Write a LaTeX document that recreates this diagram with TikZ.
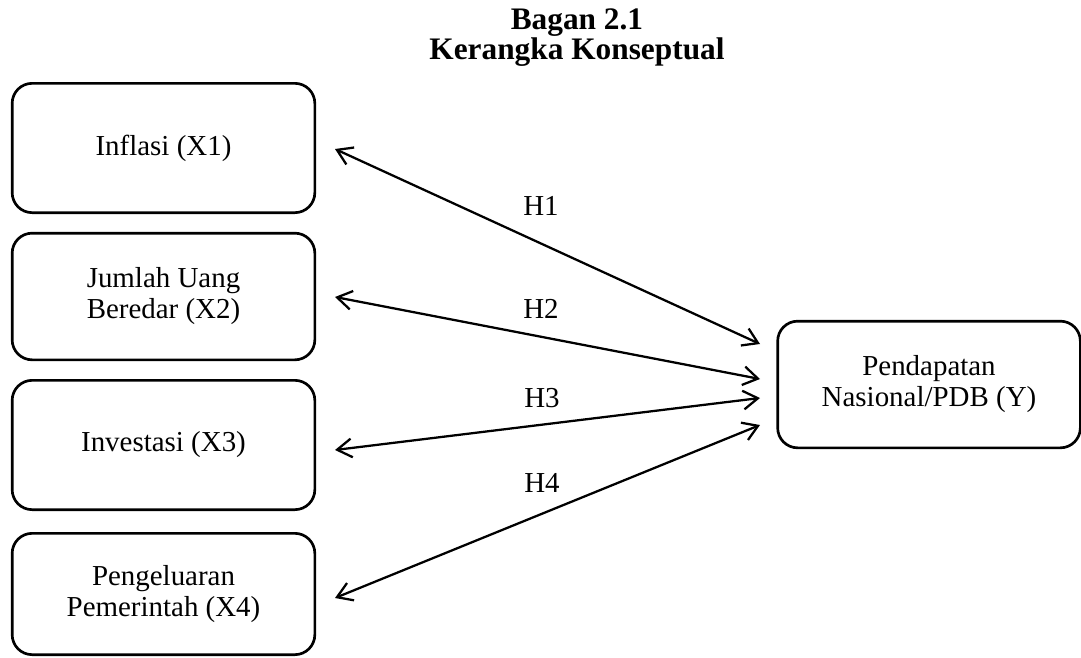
\documentclass[tikz,border=0pt]{standalone}
\usepackage{fontspec}
\setmainfont{Liberation Serif}
\usetikzlibrary{arrows.meta}
\begin{document}
\begin{tikzpicture}[x=0.75pt,y=-0.75pt,
  box/.style={draw, line width=2pt, rounded corners=15pt, minimum width=227pt,
    align=center, font=\fontsize{21.7}{23.3}\selectfont, inner sep=0pt},
  lbl/.style={font=\fontsize{21.7}{23.3}\selectfont, inner sep=0pt},
  ttl/.style={font=\fontsize{23.5}{21}\selectfont\bfseries, inner sep=0pt, align=center},
  conn/.style={line width=1.7pt, {Straight Barb[length=11pt,width=14pt,line width=1.7pt]}-{Straight Barb[length=11pt,width=14pt,line width=1.7pt]}}]
\useasboundingbox (0,0) rectangle (1081,657);
\node[ttl] (title) at (577,38) {Bagan 2.1\\Kerangka Konseptual};
\node[box, minimum height=97pt] (x1) at (163.5,148) {Inflasi (X1)};
\node[box, minimum height=95pt] (x2) at (163.5,296.5) {Jumlah Uang\\Beredar (X2)};
\node[box, minimum height=97pt] (x3) at (163.5,445) {Investasi (X3)};
\node[box, minimum height=91pt] (x4) at (163.5,594) {Pengeluaran\\Pemerintah (X4)};
\node[box, minimum height=95pt] (y) at (929,384.5) {Pendapatan\\Nasional/PDB (Y)};
\coordinate (a1) at (335,149);
\coordinate (a2) at (335,297);
\coordinate (a3) at (335,450);
\coordinate (a4) at (335,598);
\coordinate (b1) at (760,344);
\coordinate (b2) at (760,379);
\coordinate (b3) at (760,398);
\coordinate (b4) at (760,425);
\draw[conn] (a1) -- (b1);
\draw[conn] (a2) -- (b2);
\draw[conn] (a3) -- (b3);
\draw[conn] (a4) -- (b4);
\node[lbl] (h1) at (541,206) {H1};
\node[lbl] (h2) at (541,309) {H2};
\node[lbl] (h3) at (542,398) {H3};
\node[lbl] (h4) at (542,483) {H4};
\end{tikzpicture}
\end{document}
